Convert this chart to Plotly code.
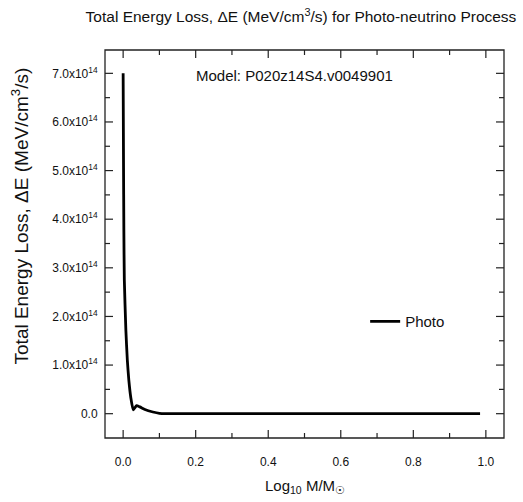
import plotly.graph_objects as go

log_mass = [0.0, 0.001, 0.002, 0.0033, 0.0075, 0.0116, 0.0157, 0.021, 0.028,
            0.037, 0.046, 0.060, 0.082, 0.10, 0.12, 0.15, 0.2, 0.3, 0.4, 0.5,
            0.6, 0.7, 0.8, 0.9, 0.984]
energy_loss = [7.0e14, 5.22e14, 3.78e14, 2.75e14, 1.72e14, 1.10e14, 0.69e14, 0.34e14, 0.08e14,
               0.165e14, 0.14e14, 0.086e14, 0.035e14, 0.008e14, 0.002e14, 0.0, 0.0, 0.0, 0.0, 0.0,
               0.0, 0.0, 0.0, 0.0, 0.0]

y_tickvals = [0, 1e14, 2e14, 3e14, 4e14, 5e14, 6e14, 7e14]
y_ticktext = ["0.0"] + [f"{v}.0x10<sup>14</sup>" for v in range(1, 8)]
y_minorvals = [0.5e14, 1.5e14, 2.5e14, 3.5e14, 4.5e14, 5.5e14, 6.5e14]
x_tickvals = [0.0, 0.2, 0.4, 0.6, 0.8, 1.0]
x_ticktext = ["0.0", "0.2", "0.4", "0.6", "0.8", "1.0"]
x_minorvals = [0.1, 0.3, 0.5, 0.7, 0.9]

X_RANGE = [-0.05, 1.05]
Y_RANGE = [-0.5e14, 7.48e14]

W, H = 523, 502
MARGIN = dict(l=105, r=19, t=50, b=64)
PLOT_W = W - MARGIN["l"] - MARGIN["r"]
PLOT_H = H - MARGIN["t"] - MARGIN["b"]
X_PER_PX = (X_RANGE[1] - X_RANGE[0]) / PLOT_W
Y_PER_PX = (Y_RANGE[1] - Y_RANGE[0]) / PLOT_H

FONT = "Liberation Sans, Arial, sans-serif"
TXT = "#111"
AX = "#222"

fig = go.Figure()

# inside tick marks on all four sides, drawn on the axis scales
tx, ty = [], []
for vals, px in ((x_tickvals, 8), (x_minorvals, 5)):
    L = px * Y_PER_PX
    for v in vals:
        tx += [v, v, None, v, v, None]
        ty += [Y_RANGE[0], Y_RANGE[0] + L, None, Y_RANGE[1], Y_RANGE[1] - L, None]
for vals, px in ((y_tickvals, 8), (y_minorvals, 5)):
    L = px * X_PER_PX
    for v in vals:
        tx += [X_RANGE[0], X_RANGE[0] + L, None, X_RANGE[1], X_RANGE[1] - L, None]
        ty += [v, v, None, v, v, None]
fig.add_trace(go.Scatter(x=tx, y=ty, mode="lines", showlegend=False, hoverinfo="skip",
                         line=dict(color=AX, width=1.2), connectgaps=False, cliponaxis=False))

fig.add_trace(go.Scatter(x=log_mass, y=energy_loss, mode="lines", name="Photo",
                         line=dict(color="black", width=2.8, shape="spline", smoothing=0.5)))

fig.update_layout(
    xaxis=dict(range=X_RANGE, tickvals=x_tickvals, ticktext=x_ticktext, showline=False,
               ticks="outside", ticklen=13, tickcolor="rgba(0,0,0,0)", showgrid=False,
               zeroline=False, automargin=False,
               tickfont=dict(family=FONT, size=12, color=TXT)),
    yaxis=dict(range=Y_RANGE, tickvals=y_tickvals, ticktext=y_ticktext, showline=False,
               ticks="outside", ticklen=4, tickcolor="rgba(0,0,0,0)", showgrid=False,
               zeroline=False, automargin=False,
               tickfont=dict(family=FONT, size=12, color=TXT)),
)

# plot frame
fig.add_shape(type="rect", xref="paper", yref="paper", x0=0, y0=0, x1=1, y1=1,
              line=dict(color=AX, width=1.3), fillcolor="rgba(0,0,0,0)", layer="above")

fig.add_annotation(text="Model: P020z14S4.v0049901", xref="paper", yref="paper",
                   x=0.474, y=0.933, showarrow=False, xanchor="center", yanchor="middle",
                   font=dict(family=FONT, size=15, color=TXT))
fig.add_annotation(text="Log<sub>10</sub> M/M<sub>☉</sub>", xref="paper", yref="paper",
                   x=0.5, y=-0.125, showarrow=False, xanchor="center", yanchor="middle",
                   font=dict(family=FONT, size=15, color=TXT))
fig.add_annotation(text="Total Energy Loss, ΔE (MeV/cm<sup>3</sup>/s)", xref="paper", yref="paper",
                   x=-0.213, y=0.571, showarrow=False, xanchor="center", yanchor="middle",
                   textangle=-90, font=dict(family=FONT, size=19, color=TXT))

fig.update_layout(
    width=W, height=H,
    margin=MARGIN,
    paper_bgcolor="white", plot_bgcolor="white",
    title=dict(text="Total Energy Loss, ΔE (MeV/cm<sup>3</sup>/s) for Photo-neutrino Process",
               x=301 / W, xanchor="center", y=1 - 17 / H, yanchor="middle",
               font=dict(family=FONT, size=15.5, color=TXT)),
    legend=dict(x=0.652, y=0.30, xanchor="left", yanchor="middle", bgcolor="rgba(0,0,0,0)",
                font=dict(family=FONT, size=15, color=TXT)),
    showlegend=True,
)

fig.write_html("out.html", config={"displayModeBar": False},
               post_script="document.body.style.margin='0';document.body.style.padding='0';")
